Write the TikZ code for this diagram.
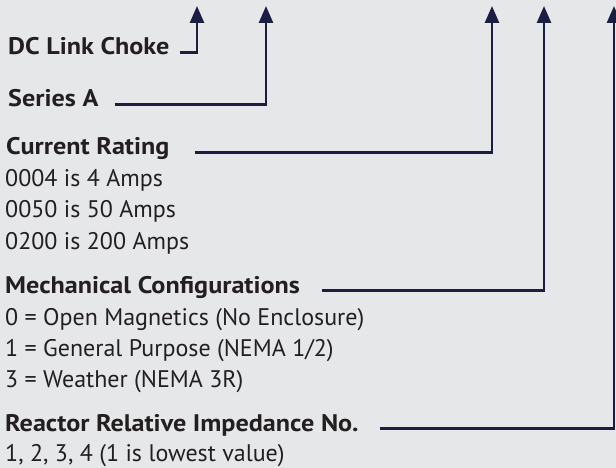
\documentclass[tikz,border=0pt]{standalone}
\usepackage{fontspec}
\setmainfont{PT Sans}[BoldFeatures={FakeStretch=1.09}]
\usetikzlibrary{arrows.meta}
\definecolor{ckbg}{RGB}{230,231,233}
\definecolor{cknavy}{RGB}{27,30,66}
\definecolor{cktext}{RGB}{35,31,32}
\tikzstyle{pointer} = [line width=2.6pt, color=cknavy, -{Triangle[length=17pt,width=14pt]}]
\tikzstyle{heading} = [anchor=base west, inner sep=0pt, text=cktext, font=\fontsize{24}{28}\selectfont\bfseries]
\tikzstyle{entry} = [anchor=base west, inner sep=0pt, text=cktext, font=\fontsize{24}{28}\selectfont]

\begin{document}
\begin{tikzpicture}[x=1pt, y=-1pt]
\fill[ckbg] (0,0) rectangle (616,468);
\useasboundingbox (0,0) rectangle (616,468);

% Headings
\node[heading] (choke) at (8,55) {DC Link Choke};
\node[heading] (series) at (8,107) {Series A};
\node[heading] (rating) at (6,155) {Current Rating};
\node[heading] (mech) at (5,293) {Mechanical Configurations};
\node[heading] (reactor) at (5,431) {Reactor Relative Impedance No.};

% Entries
\node[entry] (amp1) at (5,186) {0004 is 4 Amps};
\node[entry] (amp2) at (5,217) {0050 is 50 Amps};
\node[entry] (amp3) at (5,249) {0200 is 200 Amps};
\node[entry] (cfg0) at (5,325) {0 = Open Magnetics (No Enclosure)};
\node[entry] (cfg1) at (5,356) {1 = General Purpose (NEMA 1/2)};
\node[entry] (cfg3) at (5,387) {3 = Weather (NEMA 3R)};
\node[entry] (imp) at (5,461) {1, 2, 3, 4 (1 is lowest value)};

% Arrow tips
\coordinate (tip1) at (197,6);
\coordinate (tip2) at (266,6);
\coordinate (tip3) at (492,6);
\coordinate (tip4) at (544,6);
\coordinate (tip5) at (614,6);

% Arrows
\draw[pointer] ([xshift=10pt]choke.mid east) -| (tip1);
\draw[pointer] ([xshift=16pt]series.mid east) -| (tip2);
\draw[pointer] ([xshift=25pt]rating.mid east) -| (tip3);
\draw[pointer] ([xshift=22pt]mech.mid east) -| (tip4);
\draw[pointer] ([xshift=21pt]reactor.mid east) -| (tip5);
\end{tikzpicture}
\end{document}
